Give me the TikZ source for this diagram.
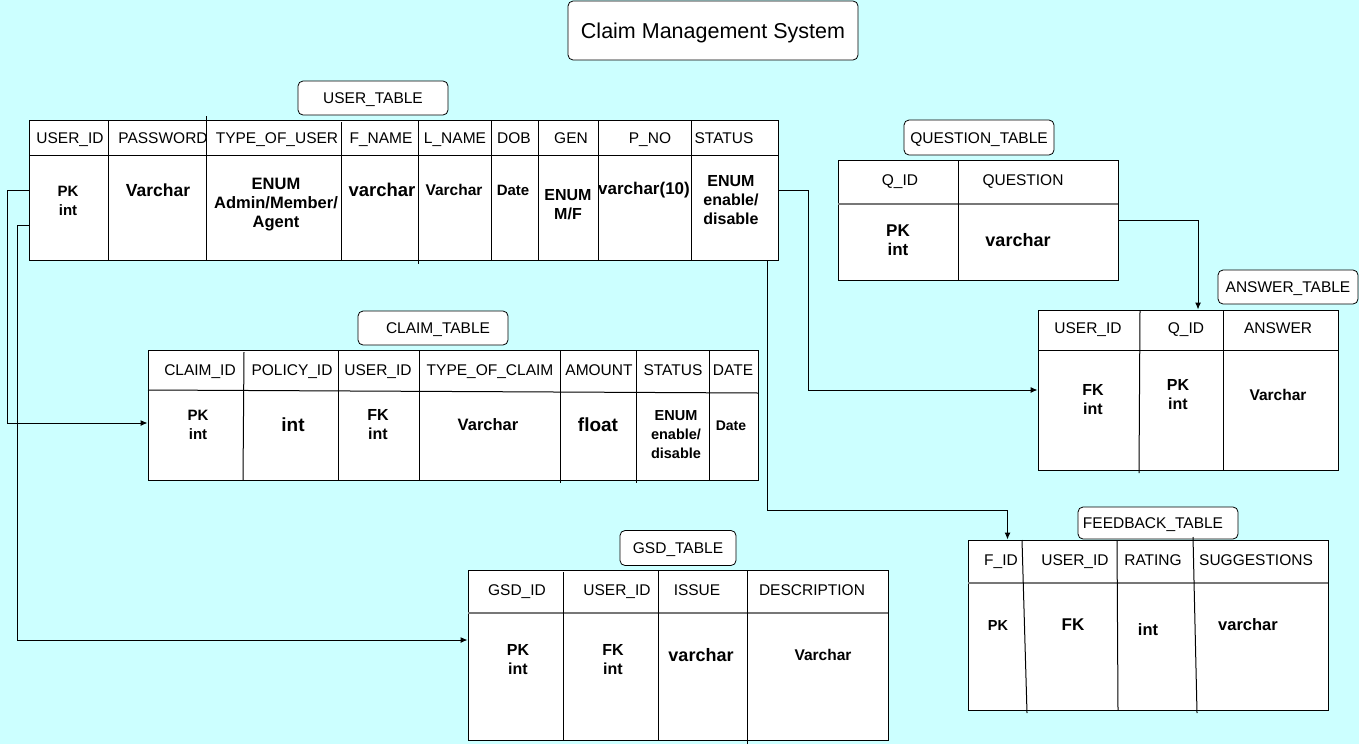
\documentclass[tikz,border=0pt]{standalone}
\usepackage{fontspec}
\setmainfont{Liberation Sans}
\usepackage{tikz}
\usetikzlibrary{fit}
\usetikzlibrary{arrows.meta}
\definecolor{bgcyan}{HTML}{CCFFFF}
\definecolor{rulegray}{HTML}{777777}
\newcommand{\tabbox}[5]{\node[tabframe, fit={( #2 , #3 ) ( #4 , #5 )}] (#1) {};}
\newcommand{\tabcol}[4]{\draw ( #1 , #2 ) -- ( #3 , #4 );}
\newcommand{\tabrule}[4]{\draw[#1] ( #2 , #4 ) -- ( #3 , #4 );}
\newcommand{\hdrtxt}[4]{\node[hdr] (#1) at ( #2 , #3 ) {#4};}
\newcommand{\valtxt}[5]{\node[val=#4] (#1) at ( #2 , #3 ) {#5};}
\tikzset{
  tabframe/.style={draw, fill=white, inner sep=0pt, line width=1pt},
  hdr/.style={font=\fontsize{15.5}{18}\selectfont, inner sep=0pt, text height=11.2pt, text depth=0pt},
  val/.style={font=\bfseries\fontsize{#1}{19}\selectfont, align=center, inner sep=0pt},
  lbl/.style={draw, rounded corners=5pt, fill=white, inner sep=0pt, line width=0.8pt,
    font=\fontsize{15.5}{18}\selectfont, text height=11.2pt, text depth=0pt},
  conn/.style={line width=1pt, -{Latex[length=7pt,width=6pt]}}
}
\begin{document}
\begin{tikzpicture}[x=1pt, y=-1pt, line width=1pt]
        \useasboundingbox (0,0) rectangle (1359,744);
        \fill[bgcyan] (0,0) rectangle (1359,744);
        % title
        \node[lbl, minimum width=290pt, minimum height=59pt, font=\fontsize{21.5}{24}\selectfont, text height=15.5pt] (title) at (713,30.5) {Claim Management System};
        % user table
        \node[lbl, minimum width=150pt, minimum height=34pt] (userlbl) at (373,98) {USER\_TABLE};
        \tabbox{usertab}{29}{120}{778}{260}
        \tabrule{black}{29}{778}{155}
        \tabcol{108}{120}{108}{260}
        \tabcol{206}{116}{206}{260}
        \tabcol{341}{122}{341}{260}
        \tabcol{418}{120}{418}{264}
        \tabcol{491}{120}{491}{260}
        \tabcol{538}{120}{538}{260}
        \tabcol{598}{120}{598}{260}
        \tabcol{691}{120}{691}{260}
        \hdrtxt{uh1}{70}{138}{USER\_ID}
        \hdrtxt{uh2}{163}{138}{PASSWORD}
        \hdrtxt{uh3}{277}{138}{TYPE\_OF\_USER}
        \hdrtxt{uh4}{381}{138}{F\_NAME}
        \hdrtxt{uh5}{455}{138}{L\_NAME}
        \hdrtxt{uh6}{514}{138}{DOB}
        \hdrtxt{uh7}{571}{138}{GEN}
        \hdrtxt{uh8}{650}{138}{P\_NO}
        \hdrtxt{uh9}{724}{138}{STATUS}
        \valtxt{uv1}{68}{201}{15}{PK\\int}
        \valtxt{uv2}{158}{190}{17.5}{Varchar}
        \valtxt{uv3}{276}{205}{16.5}{ENUM\\Admin/Member/\\Agent}
        \valtxt{uv4}{382}{190}{18.5}{varchar}
        \valtxt{uv5}{454}{190}{15.5}{Varchar}
        \valtxt{uv6}{513}{190}{15}{Date}
        \valtxt{uv7}{568}{205}{16}{ENUM\\M/F}
        \valtxt{uv8}{644}{190}{17}{varchar(10)}
        \valtxt{uv9}{731}{200}{16}{ENUM\\enable/\\disable}
        % claim table
        \node[lbl, minimum width=150pt, minimum height=34pt] (claimlbl) at (433,328) {\hspace*{10pt}CLAIM\_TABLE};
        \tabbox{claimtab}{148}{350}{758}{480}
        \draw (148,390) -- (758,393);
        \tabcol{244}{352}{243}{480}
        \tabcol{338}{350}{338}{480}
        \tabcol{419}{350}{419}{480}
        \tabcol{560}{350}{560}{483}
        \tabcol{636}{350}{636}{483}
        \tabcol{709}{350}{709}{480}
        \hdrtxt{ch1}{200}{370}{CLAIM\_ID}
        \hdrtxt{ch2}{292}{370}{POLICY\_ID}
        \hdrtxt{ch3}{378}{370}{USER\_ID}
        \hdrtxt{ch4}{490}{370}{TYPE\_OF\_CLAIM}
        \hdrtxt{ch5}{599}{370}{AMOUNT}
        \hdrtxt{ch6}{673}{370}{STATUS}
        \hdrtxt{ch7}{733}{370}{DATE}
        \valtxt{cv1}{198}{425}{15}{PK\\int}
        \valtxt{cv2}{293}{425}{19}{int}
        \valtxt{cv3}{378}{425}{16}{FK\\int}
        \valtxt{cv4}{488}{425}{16.5}{Varchar}
        \valtxt{cv5}{598}{425}{19}{float}
        \valtxt{cv6}{676}{435}{14.5}{ENUM\\enable/\\disable}
        \valtxt{cv7}{731}{426}{14}{Date}
        % question table
        \node[lbl, minimum width=150pt, minimum height=35pt] (queslbl) at (979,137.5) {QUESTION\_TABLE};
        \tabbox{questab}{838}{160}{1118}{280}
        \tabrule{rulegray, line width=2pt}{838}{1118}{204}
        \tabcol{958}{160}{958}{280}
        \hdrtxt{qh1}{900}{180}{Q\_ID}
        \hdrtxt{qh2}{1023}{180}{QUESTION}
        \valtxt{qv1}{898}{240}{17}{PK\\int}
        \valtxt{qv2}{1018}{240}{18}{varchar}
        % answer table
        \node[lbl, minimum width=140pt, minimum height=34pt] (anslbl) at (1288,287) {ANSWER\_TABLE};
        \tabbox{anstab}{1038}{310}{1338}{470}
        \tabrule{black}{1038}{1338}{350}
        \tabcol{1140}{310}{1139}{473}
        \tabcol{1223}{310}{1223}{470}
        \hdrtxt{ah1}{1088}{328}{USER\_ID}
        \hdrtxt{ah2}{1186}{328}{Q\_ID}
        \hdrtxt{ah3}{1278}{328}{ANSWER}
        \valtxt{av1}{1093}{400}{16}{FK\\int}
        \valtxt{av2}{1178}{395}{16}{PK\\int}
        \valtxt{av3}{1278}{395}{15.5}{Varchar}
        % feedback table
        \node[lbl, minimum width=160pt, minimum height=32pt] (feedlbl) at (1158,523) {FEEDBACK\_TABLE\hspace*{10pt}};
        \tabbox{feedtab}{968}{540}{1328}{710}
        \tabrule{rulegray, line width=2pt}{968}{1328}{583}
        \tabcol{1022}{540}{1027}{713}
        \tabcol{1117}{540}{1118}{710}
        \tabcol{1193}{537}{1197}{713}
        \hdrtxt{fh1}{1001}{560}{F\_ID}
        \hdrtxt{fh2}{1075}{560}{USER\_ID}
        \hdrtxt{fh3}{1153}{560}{RATING}
        \hdrtxt{fh4}{1256}{560}{SUGGESTIONS}
        \valtxt{fv1}{998}{626}{14.5}{PK}
        \valtxt{fv2}{1073}{625}{17}{FK}
        \valtxt{fv3}{1148}{630}{16.5}{int}
        \valtxt{fv4}{1248}{625}{16.5}{varchar}
        % gsd table
        \node[lbl, minimum width=116pt, minimum height=35pt] (gsdlbl) at (678,548) {GSD\_TABLE};
        \tabbox{gsdtab}{468}{570}{888}{740}
        \tabrule{rulegray, line width=2pt}{468}{888}{613}
        \tabcol{563}{572}{563}{740}
        \tabcol{658}{570}{658}{740}
        \tabcol{747}{570}{747}{744}
        \hdrtxt{gh1}{517}{590}{GSD\_ID}
        \hdrtxt{gh2}{617}{590}{USER\_ID}
        \hdrtxt{gh3}{697}{590}{ISSUE}
        \hdrtxt{gh4}{812}{590}{DESCRIPTION}
        \valtxt{gv1}{518}{660}{16}{PK\\int}
        \valtxt{gv2}{613}{660}{16}{FK\\int}
        \valtxt{gv3}{701}{655}{18}{varchar}
        \valtxt{gv4}{823}{655}{15.5}{Varchar}
        % links
        \draw[conn] (usertab.west) -- ++(-21,0) |- ([yshift=-8pt]claimtab.west);
        \draw[conn] ([yshift=-35pt]usertab.west) -- ++(-11,0) |- ([yshift=15pt]gsdtab.west);
        \draw[conn] (usertab.east) -- ++(30,0) |- (anstab.west);
        \draw[conn] ([xshift=-11pt]usertab.south east) -- ++(0,250) -| ([xshift=40pt]feedtab.north west);
        \draw[conn] (questab.east) -| ([xshift=10pt]anstab.north);
\end{tikzpicture}
\end{document}
